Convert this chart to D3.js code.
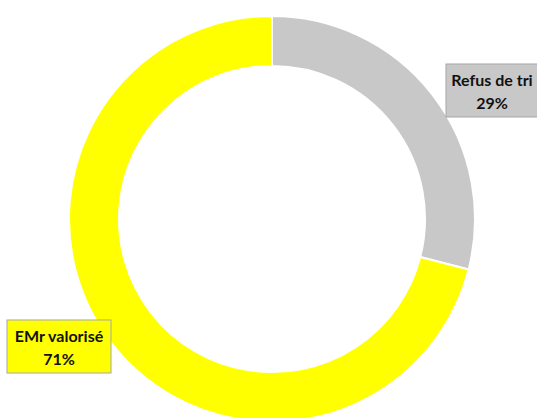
<!DOCTYPE html>
<html><head><meta charset="utf-8">
<script src="https://cdn.jsdelivr.net/npm/d3@7"></script>
<style>html,body{margin:0;padding:0;background:#fff;overflow:hidden}</style>
</head><body>
<svg id="chart" width="537" height="418"></svg>
<script>
const categories = ["Refus de tri", "EMr valorisé"];
const values = [29, 71];
const labelTexts = ["29%", "71%"];
const colors = ["#c8c8c8", "#ffff00"];

const svg = d3.select("#chart");
const cx = 272, cy = 219, R = 203, r = 153;
const pie = d3.pie().sort(null).value(d => d.v);
const arcs = pie(categories.map((c, i) => ({c, v: values[i], col: colors[i]})));
const arc = d3.arc().innerRadius(r).outerRadius(R);
const g = svg.append("g").attr("transform", `translate(${cx},${cy})`);
g.selectAll("path").data(arcs).join("path")
  .attr("d", arc).attr("fill", d => d.data.col)
  .attr("stroke", "#fff").attr("stroke-width", 2);

const boxes = [
  {x: 446, y: 64, w: 92, h: 53},
  {x: 7, y: 320, w: 104, h: 53}
];
categories.forEach((c, i) => {
  const b = boxes[i];
  const lg = svg.append("g");
  lg.append("rect").attr("x", b.x).attr("y", b.y).attr("width", b.w).attr("height", b.h)
    .attr("fill", colors[i]).attr("stroke", "#a6a6a6").attr("stroke-width", 1);
  const t = lg.append("text").attr("text-anchor", "middle")
    .attr("font-family", "Lato, 'Open Sans', sans-serif").attr("font-weight", "bold")
    .attr("font-size", 16).attr("fill", "#111");
  t.append("tspan").attr("x", b.x + b.w / 2).attr("y", b.y + 22).text(c);
  t.append("tspan").attr("x", b.x + b.w / 2).attr("y", b.y + 45).text(labelTexts[i]);
});
</script>
</body></html>
